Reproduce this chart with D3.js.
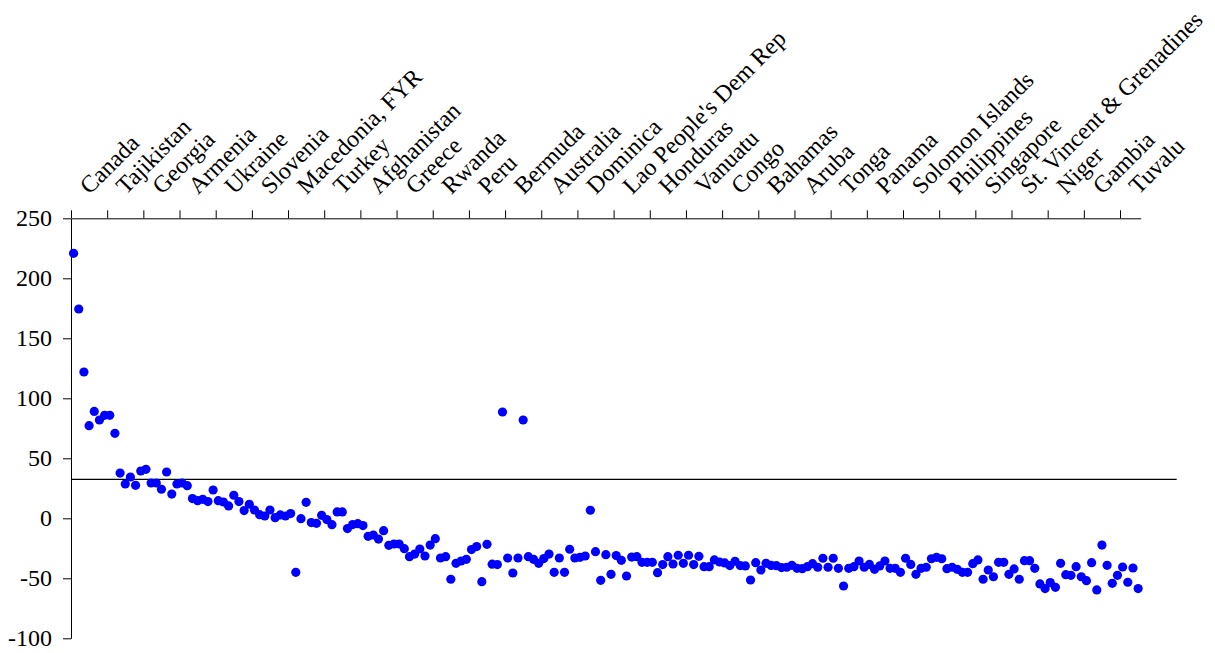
<!DOCTYPE html>
<html>
<head>
<meta charset="utf-8">
<script src="https://cdn.jsdelivr.net/npm/d3@7"></script>
<style>
  html, body { margin: 0; padding: 0; background: #fff; }
  svg { display: block; }
</style>
</head>
<body>
<svg id="chart" width="1215" height="653"></svg>
<script>
// ---- Data ----
const tickLabels = ["Canada","Tajikistan","Georgia","Armenia","Ukraine","Slovenia","Macedonia, FYR","Turkey","Afghanistan","Greece","Rwanda","Peru","Bermuda","Australia","Dominica","Lao People's Dem Rep","Honduras","Vanuatu","Congo","Bahamas","Aruba","Tonga","Panama","Solomon Islands","Philippines","Singapore","St. Vincent & Grenadines","Niger","Gambia","Tuvalu"];
const labelEvery = 7;

const values = [
  220.8,174.4,121.9,77.2,89.1,81.9,85.8,85.8,70.8,37.7,
  28.6,34.4,27.5,39.4,40.8,29.4,29.4,24.2,38.6,20.2,
  28.6,29.4,27.2,16.4,14.7,15.8,13.9,23.6,14.7,13.6,
  10.3,19.2,13.9,6.4,11.7,6.9,3.0,1.9,6.9,0.5,
  2.8,1.9,3.9,-45,-0.3,13.3,-3.6,-4.2,2.5,-1.1,
  -5.3,5.3,5.3,-8.6,-5.2,-4.5,-6.1,-15,-13.9,-17.3,
  -10.3,-22.5,-21.4,-21.4,-25.3,-32,-29.8,-25.6,-31.4,-22.3,
  -17,-33.1,-32,-50.8,-37.5,-35.6,-34.2,-26.1,-23.6,-52.8,
  -21.7,-38.2,-38.6,88.6,-33.1,-45.6,-33.1,81.9,-32,-34.2,
  -37.5,-33.6,-29.8,-45,-33.1,-45,-25.8,-33.1,-32.5,-31.4,
  6.7,-27.8,-51.7,-30.3,-46.7,-31.1,-35,-48.1,-32.3,-32,
  -36.7,-36.7,-36.7,-45.3,-38.6,-32,-38.1,-30.8,-37.5,-30.8,
  -38.6,-31.7,-40.3,-40.3,-34.7,-36.4,-37.2,-39.4,-35.8,-39.4,
  -39.7,-51.4,-37,-43.1,-37.5,-39.3,-39.5,-41.1,-40.8,-39.2,
  -41.7,-42,-40.3,-37.8,-40.8,-33.3,-40.8,-33.3,-41.7,-56.4,
  -41.7,-40.3,-35.6,-40.8,-38.4,-42.5,-39.7,-35.6,-41.7,-41.7,
  -45,-33.3,-38.4,-46.7,-41.7,-40.8,-33.7,-32.5,-33.7,-42,
  -40.8,-42.5,-45,-45,-37.8,-34.7,-50.8,-43.1,-48.7,-36.7,
  -36.7,-46.7,-42.2,-50.8,-35.3,-35.3,-41.7,-54.7,-58.6,-53.6,
  -57.5,-37.5,-47,-47.5,-40.3,-48.7,-52,-37,-59.7,-22.3,
  -39.2,-54.2,-47.5,-40.6,-53.3,-41.4,-58.6
];
const referenceValue = 32.5;
const yTicks = [-100,-50,0,50,100,150,200,250];

// categories: every 7th carries a visible label
const categories = values.map((v, i) => i);

// ---- Layout ----
const mLeft = 71, mRight = 1140.7, mTop = 218.3, mBottom = 638.3;
const font = "'Liberation Serif','Times New Roman',Times,serif";

const svg = d3.select("#chart");

const x = d3.scaleBand().domain(categories).range([mLeft, mRight]).padding(0);
const xEdge = d3.scaleLinear().domain([0, categories.length]).range([mLeft, mRight]);
const y = d3.scaleLinear().domain([-100, 250]).range([mBottom, mTop]);

// reference line
svg.append("line")
  .attr("x1", mLeft).attr("x2", mRight + 36)
  .attr("y1", y(referenceValue)).attr("y2", y(referenceValue))
  .attr("stroke", "#000").attr("stroke-width", 1.3);

// y axis
const yAxis = svg.append("g")
  .attr("transform", `translate(${mLeft},0)`)
  .call(d3.axisLeft(y).tickValues(yTicks).tickSize(8).tickSizeOuter(0).tickPadding(11)
        .tickFormat(d => String(d)));
yAxis.attr("font-family", font).attr("font-size", 24);
yAxis.selectAll("text").attr("fill", "#000");
yAxis.selectAll("path,line").attr("stroke", "#000");

// top category axis (at y = 250)
const tickIdx = d3.range(0, categories.length, labelEvery);
const xAxis = svg.append("g")
  .attr("transform", `translate(0,${y(250)})`)
  .call(d3.axisTop(xEdge).tickValues(tickIdx).tickSize(8).tickSizeOuter(0).tickFormat(""));
xAxis.selectAll("path,line").attr("stroke", "#000");

// rotated labels
const bw = x.bandwidth();
const lx = k => x(k * labelEvery) + bw / 2 + 16;
const ly = y(250) - 23;
svg.append("g").selectAll("text")
  .data(tickLabels)
  .join("text")
  .attr("x", (d, k) => lx(k))
  .attr("y", ly)
  .attr("transform", (d, k) => `rotate(-45, ${lx(k)}, ${ly})`)
  .attr("font-family", font)
  .attr("font-size", 24)
  .attr("fill", "#000")
  .text(d => d);

// points
svg.append("g").selectAll("circle")
  .data(values)
  .join("circle")
  .attr("cx", (d, i) => x(i) + bw / 2)
  .attr("cy", d => y(d))
  .attr("r", 4.6)
  .attr("fill", "#0000ff");
</script>
</body>
</html>
